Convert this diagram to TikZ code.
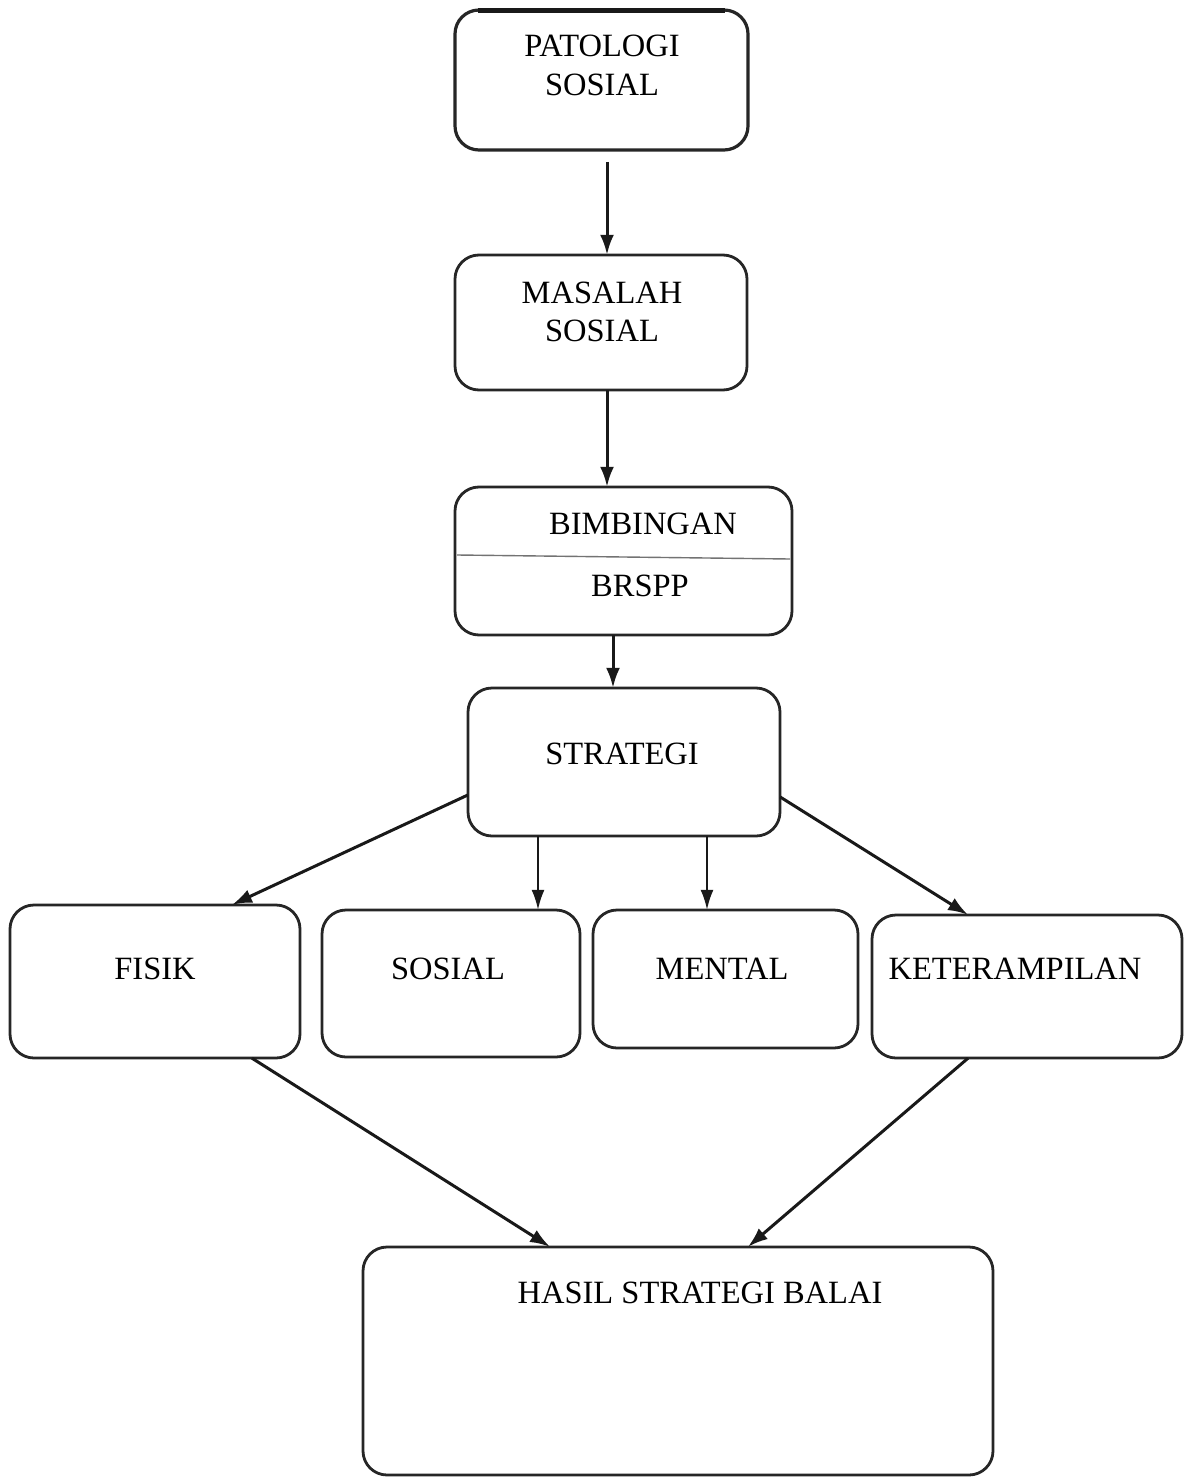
\documentclass[tikz,border=0pt]{standalone}
\usepackage{fontspec}
\setmainfont{Liberation Serif}
\usetikzlibrary{arrows.meta}
\begin{document}
\begin{tikzpicture}[x=1pt,y=-1pt,
  box/.style={draw=black!85,line width=2.8pt,rounded corners=24pt,fill=white},
  lbl/.style={anchor=base,inner sep=0pt,font=\fontsize{32.5}{39}\selectfont},
  arr/.style={draw=black!90,line width=3pt,-{Latex[length=20pt,width=14pt]}},
  thinarr/.style={draw=black!90,line width=2pt,-{Latex[length=20pt,width=13pt]}}]
\useasboundingbox (0,0) rectangle (1184,1479);
% boxes
\draw[box,line width=3.2pt] (455,10) rectangle (748,150);
\draw[black!90,line width=5pt] (478,11) -- (725,11);
\node[inner sep=0pt,minimum width=293pt,minimum height=140pt] (pat) at (601.5,80) {};
\draw[box] (455,255) rectangle (747,390);
\node[inner sep=0pt,minimum width=292pt,minimum height=135pt] (mas) at (601,322.5) {};
\draw[box] (455,487) rectangle (792,635);
\node[inner sep=0pt,minimum width=337pt,minimum height=148pt] (bim) at (623.5,561) {};
\draw[black!55,line width=1.4pt] (457,555) -- (790,559);
\draw[box] (468,688) rectangle (780,836);
\node[inner sep=0pt,minimum width=312pt,minimum height=148pt] (str) at (624,762) {};
\draw[box] (10,905) rectangle (300,1058);
\node[inner sep=0pt,minimum width=290pt,minimum height=153pt] (fis) at (155,981.5) {};
\draw[box] (322,910) rectangle (580,1057);
\node[inner sep=0pt,minimum width=258pt,minimum height=147pt] (sos) at (451,983.5) {};
\draw[box] (593,910) rectangle (858,1048);
\node[inner sep=0pt,minimum width=265pt,minimum height=138pt] (men) at (725.5,979) {};
\draw[box] (872,915) rectangle (1182,1058);
\node[inner sep=0pt,minimum width=310pt,minimum height=143pt] (ket) at (1027,986.5) {};
\draw[box] (363,1247) rectangle (993,1475);
\node[inner sep=0pt,minimum width=630pt,minimum height=228pt] (has) at (678,1361) {};
% labels
\node[lbl] (t1) at (602,57) {PATOLOGI};
\node[lbl] (t2) at (602,96) {SOSIAL};
\node[lbl] (t3) at (602,303) {MASALAH};
\node[lbl] (t4) at (602,341) {SOSIAL};
\node[lbl] (t5) at (643,534) {BIMBINGAN};
\node[lbl] (t6) at (640,596) {BRSPP};
\node[lbl] (t7) at (622,764) {STRATEGI};
\node[lbl] (t8) at (155,979) {FISIK};
\node[lbl] (t9) at (448,979) {SOSIAL};
\node[lbl] (t10) at (722,979) {MENTAL};
\node[lbl] (t11) at (1015,979) {KETERAMPILAN};
\node[lbl] (t12) at (700,1303) {HASIL STRATEGI BALAI};
% connectors
\draw[arr] (607,162) -- (607,0 |- mas.north);
\draw[arr] (607,0 |- mas.south) -- (607,0 |- bim.north);
\draw[arr] (613,0 |- bim.south) -- (613,0 |- str.north);
\draw[arr] (str.west |- 0,795) -- (232,0 |- fis.north);
\draw[thinarr] (538,0 |- str.south) -- (538,0 |- sos.north);
\draw[thinarr] (707,0 |- str.south) -- (707,0 |- men.north);
\draw[arr] (str.east |- 0,797) -- (968,0 |- ket.north);
\draw[arr] (252,0 |- fis.south) -- (550,0 |- has.north);
\draw[arr] (968,0 |- ket.south) -- (748,0 |- has.north);
\end{tikzpicture}
\end{document}
